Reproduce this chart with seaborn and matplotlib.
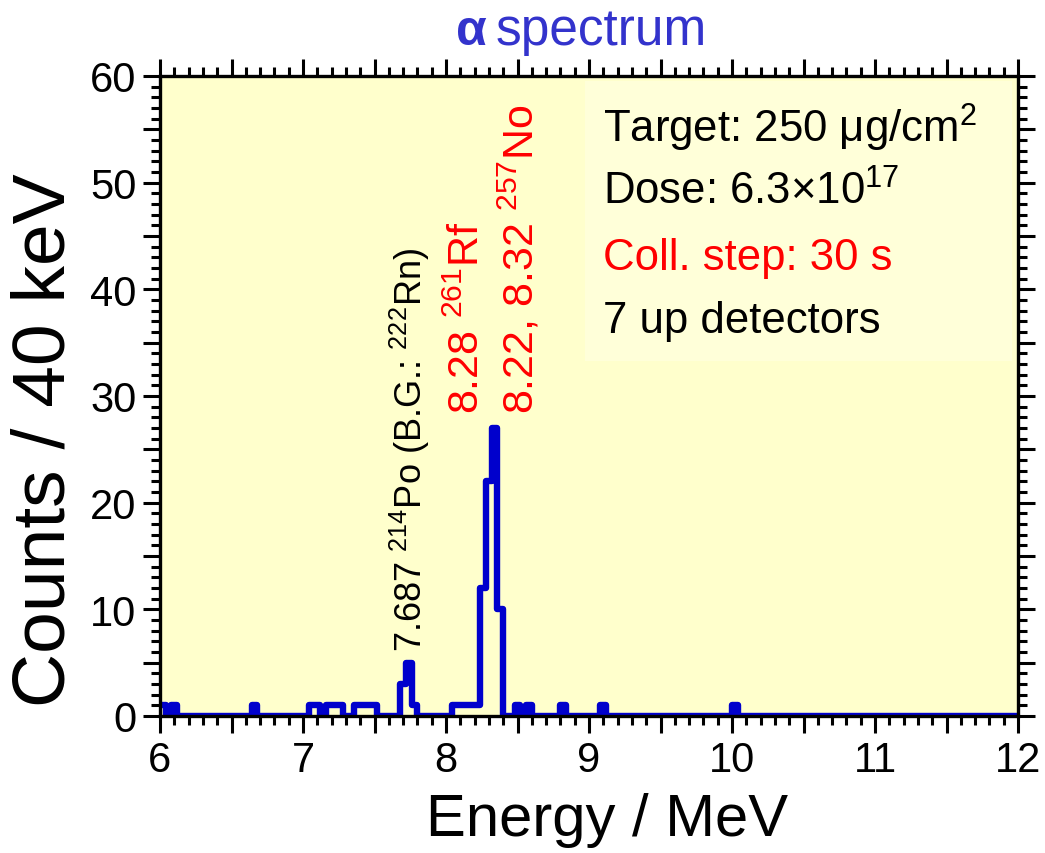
import numpy as np
import pandas as pd
import matplotlib
matplotlib.use("Agg")
import matplotlib.pyplot as plt
import seaborn as sns
from matplotlib.ticker import MultipleLocator, FuncFormatter
from matplotlib.patches import Rectangle

# ---------------- data ----------------
bin_low_mev = [6.00, 6.08, 6.64,
               7.04, 7.08, 7.16, 7.20, 7.24,
               7.36, 7.40, 7.44, 7.48,
               7.68, 7.72, 7.76,
               8.04, 8.08, 8.12, 8.16, 8.20,
               8.24, 8.28, 8.32, 8.36,
               8.48, 8.56, 8.80, 9.08, 10.00]
bin_counts = [1, 1, 1,
              1, 1, 1, 1, 1,
              1, 1, 1, 1,
              3, 5, 1,
              1, 1, 1, 1, 1,
              12, 22, 27, 10,
              1, 1, 1, 1, 1]
bin_width_mev = 0.04
energy_range = [6, 12]
count_range = [0, 60]

title_symbol = "α"
title_text = "spectrum"
x_label = "Energy / MeV"
y_label = "Counts / 40 keV"

peak_texts = ["7.687 $^{214}$Po (B.G.: $^{222}$Rn)",
              "8.28 $^{261}$Rf",
              "8.22, 8.32 $^{257}$No"]
peak_x = [7.748, 8.152, 8.515]
peak_y = [6.1, 28.4, 28.4]
peak_colors = ["black", "red", "red"]

info_lines = ["Target: 250 μg/cm$^2$",
              "Dose: 6.3×10$^{17}$",
              "Coll. step: 30 s",
              "7 up detectors"]
info_colors = ["black", "black", "red", "black"]

# ---------------- style ----------------
sns.set_style("ticks")
plt.rcParams["font.family"] = ["Liberation Sans", "DejaVu Sans"]
plt.rcParams["mathtext.fontset"] = "custom"
plt.rcParams["mathtext.rm"] = "Liberation Sans"
plt.rcParams["mathtext.it"] = "Liberation Sans:italic"
plt.rcParams["mathtext.bf"] = "Liberation Sans:bold"
plt.rcParams["mathtext.default"] = "regular"
for k in ["text.color", "axes.labelcolor", "xtick.color", "ytick.color", "axes.edgecolor"]:
    plt.rcParams[k] = "black"

fig = plt.figure(figsize=(10.45, 8.54), dpi=100)
ax = fig.add_axes([160 / 1045, 1 - 717 / 854, 858 / 1045, 640 / 854])
ax.set_facecolor("#FFFFCC")

# lighter box behind the info text
ax.add_patch(Rectangle((0.495, 0.555), 0.498, 0.437, transform=ax.transAxes,
                       facecolor="#FFFFD9", edgecolor="none", zorder=0.5))

edges = np.linspace(energy_range[0], energy_range[1],
                    int(round((energy_range[1] - energy_range[0]) / bin_width_mev)) + 1)
df = pd.DataFrame({"energy": [b + bin_width_mev / 2 for b in bin_low_mev],
                   "counts": bin_counts})
sns.histplot(data=df, x="energy", weights="counts", bins=list(edges), element="step",
             fill=False, color="#0000CC", linewidth=4.6, ax=ax)

ax.set_xlim(*energy_range)
ax.set_ylim(*count_range)

# ticks
ax.xaxis.set_major_locator(MultipleLocator(0.5))
ax.xaxis.set_minor_locator(MultipleLocator(0.1))
ax.yaxis.set_major_locator(MultipleLocator(5))
ax.yaxis.set_minor_locator(MultipleLocator(1))
ax.xaxis.set_major_formatter(FuncFormatter(lambda v, p: f"{v:.0f}" if abs(v - round(v)) < 1e-6 else ""))
ax.yaxis.set_major_formatter(FuncFormatter(lambda v, p: f"{v:.0f}" if abs(v / 10 - round(v / 10)) < 1e-6 else ""))
ax.tick_params(which="both", direction="out", top=True, right=True, width=2.2, color="black",
               labelcolor="black")
ax.tick_params(which="major", length=12, pad=5, labelsize=30)
ax.tick_params(which="minor", length=6.5)
for s in ax.spines.values():
    s.set_linewidth(2.4)
    s.set_color("black")
    s.set_visible(True)
    s.set_zorder(3)

ax.set_xlabel(x_label, fontsize=43, color="black")
ax.set_ylabel(y_label, fontsize=54, color="black")
ax.xaxis.set_label_coords(0.521, -0.118)
ax.yaxis.set_label_coords(-0.094, 0.433)

# peak annotations
peak_sizes = [26, 31, 31]
for t, x, y, c, fs in zip(peak_texts, peak_x, peak_y, peak_colors, peak_sizes):
    ax.text(x, y, t, rotation=90, ha="center", va="bottom", color=c, fontsize=fs, zorder=4)

# info text
info_y = [0.897, 0.800, 0.698, 0.600]
for t, y, c in zip(info_lines, info_y, info_colors):
    ax.text(0.516, y, t, transform=ax.transAxes, ha="left", va="baseline",
            color=c, fontsize=31.5, zorder=4)

# title
fig.text(487 / 1045, 1 - 45 / 854, title_symbol, ha="right", va="baseline",
         color="#3333CC", fontsize=36, fontweight="bold")
fig.text(496 / 1045, 1 - 45 / 854, title_text, ha="left", va="baseline",
         color="#3333CC", fontsize=37)

fig.savefig("out.png", dpi=100)
